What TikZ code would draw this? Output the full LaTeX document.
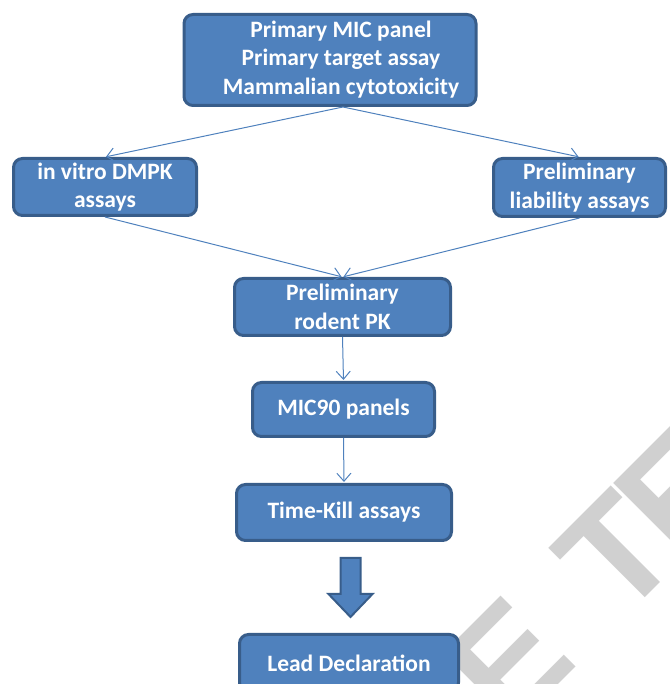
\documentclass[tikz,border=0pt]{standalone}
\usepackage{fontspec}
\setmainfont{Carlito}
\newfontfamily\wmfont{Liberation Sans}
\usetikzlibrary{arrows.meta}
\definecolor{boxblue}{RGB}{79,129,189}
\definecolor{boxedge}{RGB}{56,93,138}
\definecolor{wmgray}{RGB}{208,208,208}

\begin{document}
\begin{tikzpicture}[x=1pt,y=1pt]
        \tikzstyle{box node}=[draw=boxedge,fill=boxblue,line width=3pt,rounded corners=9pt,align=center,text=white,inner sep=0pt,font=\fontsize{23.5}{28.5}\selectfont\bfseries]
        \tikzstyle{link}=[draw=boxblue,line width=1pt,shorten >=1pt,-{Straight Barb[length=8pt,width=14pt]}]
        \tikzstyle{mark letter}=[text=wmgray,rotate=45,anchor=base,inner sep=0pt,font=\wmfont\fontsize{150}{150}\selectfont\bfseries]
        \useasboundingbox (0,0) rectangle (669,684);
        \clip (0,0) rectangle (669,684);

        % watermark behind the boxes
        \node[mark letter] (markA) at (545,-14) {E};
        \node[mark letter] (markB) at (653,94) {T};
        \node[mark letter] (markC) at (715,156) {E};

        \node[box node,minimum width=292pt,minimum height=91pt] (primary) at (330,624) {\begin{tabular}{@{\hspace{22pt}}c@{}}Primary MIC panel\\Primary target assay\\Mammalian cytotoxicity\end{tabular}};
        \node[box node,minimum width=183pt,minimum height=57pt] (dmpk) at (105,497) {in vitro DMPK\\assays};
        \node[box node,minimum width=172pt,minimum height=58pt] (liability) at (579.5,496.5) {Preliminary\\liability assays};
        \node[box node,minimum width=216pt,minimum height=57pt] (rodent) at (342.5,377) {Preliminary\\rodent PK};
        \node[box node,minimum width=182pt,minimum height=54pt] (mic) at (343.5,274.5) {MIC90 panels};
        \node[box node,minimum width=215pt,minimum height=56pt] (timekill) at (344,171.5) {Time-Kill assays};
        \node[box node,minimum width=219pt,minimum height=57pt] (lead) at (349,21) {Lead Declaration};

        \coordinate (fork) at (343,577);
        \draw[link] (fork) -- (dmpk.north);
        \draw[link] (fork) -- (liability.north);
        \draw[link] (dmpk.south) -- (rodent.north);
        \draw[link] (liability.south) -- (rodent.north);
        \draw[link] (rodent.south) -- (mic.north);
        \draw[link] (mic.south) -- (timekill.north);

        % block arrow to the lead box
        \draw[draw=boxedge,fill=boxblue,line width=2pt,line join=miter] (340.5,126) -- (360.5,126) -- (360.5,90) -- (372.5,90) -- (350.5,67) -- (328.5,90) -- (340.5,90) -- cycle;
    \end{tikzpicture}
\end{document}
